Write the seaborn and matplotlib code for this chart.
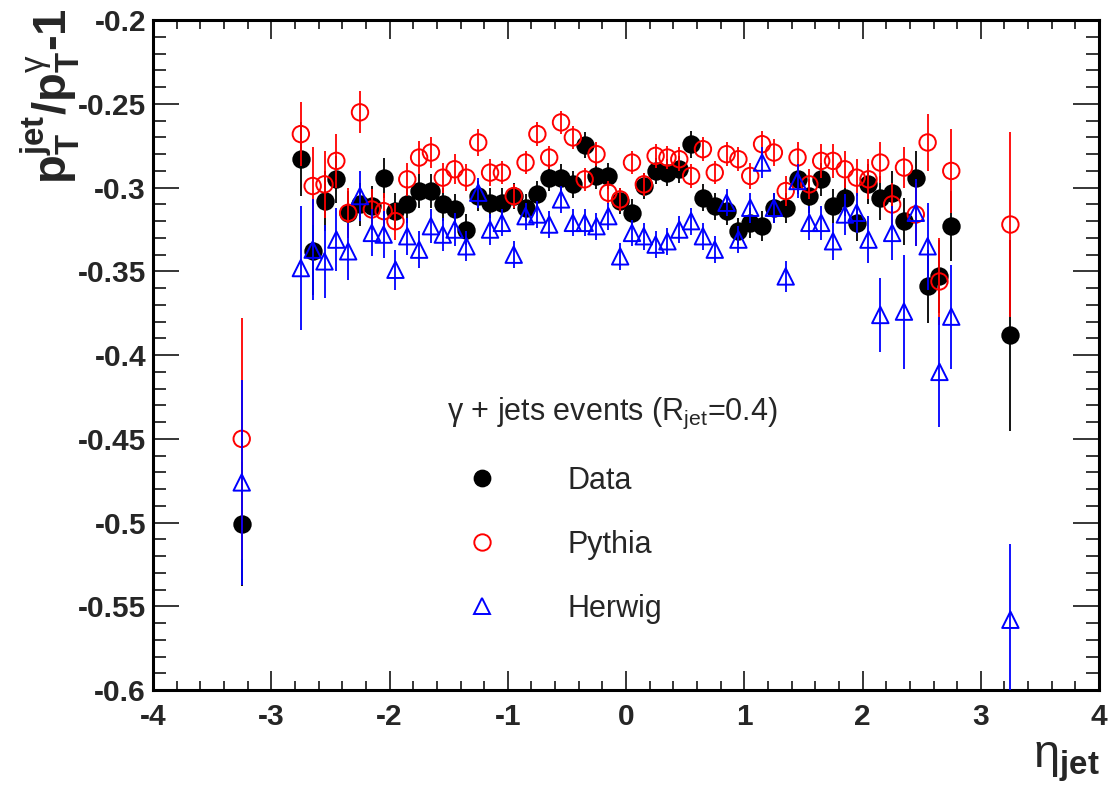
import matplotlib
matplotlib.use("Agg")
import matplotlib.pyplot as plt
from matplotlib.lines import Line2D
from matplotlib.ticker import MultipleLocator, FuncFormatter
import seaborn as sns

# eta bins of the jet
eta = [-3.25, -2.75, -2.65, -2.55, -2.45, -2.35, -2.25, -2.15, -2.05, -1.95,
       -1.85, -1.75, -1.65, -1.55, -1.45, -1.35, -1.25, -1.15, -1.05, -0.95,
       -0.85, -0.75, -0.65, -0.55, -0.45, -0.35, -0.25, -0.15, -0.05, 0.05,
       0.15, 0.25, 0.35, 0.45, 0.55, 0.65, 0.75, 0.85, 0.95, 1.05,
       1.15, 1.25, 1.35, 1.45, 1.55, 1.65, 1.75, 1.85, 1.95, 2.05,
       2.15, 2.25, 2.35, 2.45, 2.55, 2.65, 2.75, 3.25]

data = [-0.501, -0.283, -0.338, -0.308, -0.295, -0.315, -0.310, -0.311, -0.294, -0.314,
        -0.310, -0.302, -0.302, -0.310, -0.313, -0.325, -0.305, -0.309, -0.309, -0.305,
        -0.312, -0.304, -0.294, -0.294, -0.298, -0.2745, -0.293, -0.293, -0.308, -0.315,
        -0.299, -0.290, -0.291, -0.289, -0.274, -0.306, -0.311, -0.314, -0.326, -0.321,
        -0.323, -0.312, -0.312, -0.295, -0.305, -0.295, -0.311, -0.306, -0.321, -0.298,
        -0.306, -0.303, -0.320, -0.294, -0.359, -0.353, -0.323, -0.388]
data_err = [0.037, 0.022, 0.026, 0.018, 0.014, 0.013, 0.013, 0.012, 0.012, 0.011,
            0.011, 0.010, 0.010, 0.010, 0.009, 0.009, 0.009, 0.009, 0.009, 0.008,
            0.008, 0.008, 0.008, 0.008, 0.008, 0.008, 0.008, 0.008, 0.008, 0.008,
            0.008, 0.008, 0.008, 0.008, 0.008, 0.008, 0.008, 0.008, 0.008, 0.009,
            0.009, 0.009, 0.009, 0.009, 0.010, 0.010, 0.010, 0.011, 0.011, 0.012,
            0.013, 0.013, 0.014, 0.016, 0.022, 0.022, 0.021, 0.057]

pythia = [-0.450, -0.268, -0.299, -0.298, -0.284, -0.315, -0.255, -0.313, -0.314, -0.320,
          -0.295, -0.282, -0.279, -0.294, -0.289, -0.294, -0.273, -0.291, -0.291, -0.305,
          -0.285, -0.268, -0.282, -0.261, -0.270, -0.295, -0.280, -0.303, -0.307, -0.285,
          -0.298, -0.281, -0.282, -0.283, -0.293, -0.277, -0.291, -0.280, -0.283, -0.293,
          -0.274, -0.279, -0.302, -0.282, -0.298, -0.284, -0.284, -0.289, -0.294, -0.295,
          -0.285, -0.310, -0.288, -0.316, -0.273, -0.356, -0.290, -0.322]
pythia_err = [0.072, 0.019, 0.023, 0.020, 0.016, 0.015, 0.0125, 0.012, 0.011, 0.011,
              0.010, 0.010, 0.009, 0.009, 0.009, 0.008, 0.008, 0.008, 0.007, 0.007,
              0.007, 0.007, 0.007, 0.007, 0.007, 0.007, 0.007, 0.007, 0.007, 0.007,
              0.007, 0.007, 0.007, 0.007, 0.007, 0.007, 0.007, 0.007, 0.007, 0.008,
              0.008, 0.008, 0.009, 0.009, 0.009, 0.010, 0.010, 0.011, 0.011, 0.012,
              0.012, 0.013, 0.012, 0.019, 0.017, 0.026, 0.025, 0.055]

herwig = [-0.476, -0.348, -0.337, -0.344, -0.331, -0.338, -0.305, -0.327, -0.328, -0.349,
          -0.329, -0.337, -0.323, -0.328, -0.325, -0.335, -0.303, -0.325, -0.321, -0.340,
          -0.317, -0.316, -0.322, -0.307, -0.321, -0.321, -0.323, -0.317, -0.341, -0.327,
          -0.329, -0.334, -0.332, -0.325, -0.320, -0.329, -0.337, -0.309, -0.331, -0.312,
          -0.285, -0.312, -0.353, -0.296, -0.321, -0.321, -0.332, -0.316, -0.315, -0.331,
          -0.376, -0.327, -0.374, -0.315, -0.335, -0.410, -0.377, -0.558]
herwig_err = [0.061, 0.037, 0.030, 0.022, 0.019, 0.017, 0.015, 0.014, 0.014, 0.012,
              0.011, 0.011, 0.010, 0.010, 0.010, 0.009, 0.009, 0.009, 0.008, 0.008,
              0.008, 0.008, 0.008, 0.008, 0.008, 0.008, 0.008, 0.008, 0.008, 0.008,
              0.008, 0.008, 0.008, 0.008, 0.008, 0.008, 0.008, 0.008, 0.008, 0.009,
              0.009, 0.009, 0.009, 0.010, 0.010, 0.010, 0.011, 0.012, 0.012, 0.014,
              0.022, 0.016, 0.034, 0.020, 0.026, 0.033, 0.031, 0.045]

sns.set_style("ticks")
plt.rcParams["font.family"] = ["Liberation Sans", "DejaVu Sans"]
plt.rcParams["mathtext.fontset"] = "custom"
plt.rcParams["mathtext.rm"] = "Liberation Sans"
plt.rcParams["mathtext.it"] = "Liberation Sans:italic"
plt.rcParams["mathtext.bf"] = "Liberation Sans:bold"

fig = plt.figure(figsize=(11.13, 8.09), dpi=100)
ax = fig.add_axes([0.1375, 0.147, 0.85, 0.828])

series = [
    (data, data_err, "black", "o", "black", "Data"),
    (pythia, pythia_err, "red", "o", "none", "Pythia"),
    (herwig, herwig_err, "blue", "^", "none", "Herwig"),
]
z = 2
for vals, errs, col, mk, fc, name in series:
    ax.errorbar(eta, vals, yerr=errs, fmt="none", ecolor=col, elinewidth=1.3,
                capsize=0, zorder=z)
    sns.scatterplot(x=eta, y=vals, marker=mk, s=140, color=col, facecolor=fc,
                    edgecolor=col, linewidth=1.4, ax=ax, zorder=z + 1)
    z += 2

ax.set_xlim(-4, 4)
ax.set_ylim(-0.6, -0.2)
ax.xaxis.set_major_locator(MultipleLocator(1))
ax.xaxis.set_minor_locator(MultipleLocator(0.2))
ax.yaxis.set_major_locator(MultipleLocator(0.05))
ax.yaxis.set_minor_locator(MultipleLocator(0.01))
fmt = FuncFormatter(lambda v, p: "%g" % round(v, 3))
ax.xaxis.set_major_formatter(fmt)
ax.yaxis.set_major_formatter(fmt)

for s in ax.spines.values():
    s.set_linewidth(2.2)
    s.set_color("black")
ax.tick_params(which="both", direction="in", top=True, right=True, width=1.1,
               color="black", labelsize=21.5)
ax.tick_params(axis="y", which="major", length=19, pad=5)
ax.tick_params(axis="y", which="minor", length=9.5)
ax.tick_params(axis="x", which="major", length=13.5, pad=9)
ax.tick_params(axis="x", which="minor", length=6.5)
for lab in ax.get_xticklabels() + ax.get_yticklabels():
    lab.set_fontweight("bold")
ax.set_xlabel("")
ax.set_ylabel("")

fig.text(0.045, 0.99, r"$\mathbf{p_{T}^{jet}/p_{T}^{\mathrm{\gamma}}}$-1", rotation=90,
         ha="center", va="top", fontsize=34, fontweight="bold")
fig.text(0.988, 0.085, r"$\mathrm{\eta}_{\mathbf{jet}}$", ha="right", va="top",
         fontsize=34)

handles = [
    Line2D([], [], ls="none", marker="o", ms=11.8, color="black"),
    Line2D([], [], ls="none", marker="o", ms=11.8, markerfacecolor="none",
           markeredgecolor="red", markeredgewidth=1.4),
    Line2D([], [], ls="none", marker="^", ms=11.8, markerfacecolor="none",
           markeredgecolor="blue", markeredgewidth=1.4),
]
leg = ax.legend(handles, ["Data", "Pythia", "Herwig"],
                title="\u03b3 + jets events (R$_{\\mathrm{jet}}$=0.4)",
                title_fontsize=22, fontsize=22, frameon=False, alignment="left",
                loc="upper left", bbox_to_anchor=(0.298, 0.457), borderaxespad=0,
                handlelength=2.3, handletextpad=1.65, labelspacing=1.12)

fig.savefig("out.png", dpi=100)
